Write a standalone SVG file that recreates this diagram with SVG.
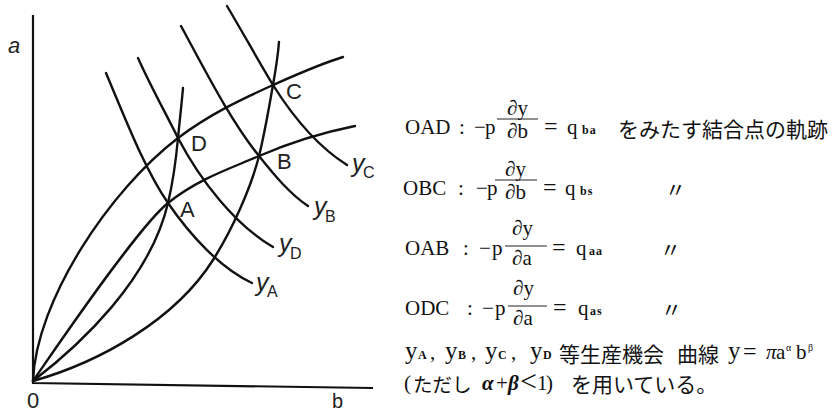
<svg xmlns="http://www.w3.org/2000/svg" width="832" height="413" viewBox="0 0 832 413">
<style>
.ax{stroke:#111;stroke-width:2.2;fill:none}
.cv{stroke:#111;stroke-width:2.4;fill:none;stroke-linecap:round}
.bar{stroke:#222;stroke-width:1}
.lb{font-family:"Liberation Sans",Arial,sans-serif;font-size:22px;fill:#222}
.sub{font-family:"Liberation Sans",Arial,sans-serif;font-size:16px;fill:#222}
.il{font-family:"Liberation Sans",Arial,sans-serif;font-style:italic;font-size:25px;fill:#222}
.tx{font-family:"Liberation Serif","Noto Sans CJK JP",serif;font-size:21px;fill:#111}
.eq{font-family:"Liberation Serif",serif;font-size:24px;fill:#111}
.yy{font-family:"Liberation Serif",serif;font-size:25px;fill:#111}
.sup{font-family:"Liberation Serif",serif;font-size:10px;fill:#111}
.jp{font-family:"Noto Sans CJK JP",sans-serif;font-size:21px;fill:#111}
.sb{font-family:"Liberation Serif",serif;font-size:12px;font-weight:bold;fill:#111}
.gr{font-family:"Liberation Serif",serif;font-style:italic;font-weight:bold;font-size:21px;fill:#111}
</style>
<rect width="832" height="413" fill="#fff"/>
<g id="axes">
<path class="ax" d="M33,15 V383 L373,388"/>
<text class="il" x="8" y="53" style="font-size:22px">a</text>
<text class="lb" x="27" y="408">0</text>
<text class="lb" x="332" y="408" style="font-size:20px">b</text>
</g>
<g id="rays">
<path id="ODC" class="cv" d="M33,381 C36,300 110,190 178,138 C210,114 240,100 273,85 C300,73 320,64 343,57"/>
<path id="OAB" class="cv" d="M33,381 C58,345 138,227 168,203 C198,179 229,169 259,156 C289,143 325,132 355,126"/>
<path id="OAD" class="cv" d="M33,381 C80,345 150,280 168,203 C172,186 176,160 178,138 C180,118 182,100 183,88"/>
<path id="OBC" class="cv" d="M33,381 C100,362 175,320 213,260 C232,230 251,188 259,156 C265,132 269,107 273,85 C276,68 278,55 279,42"/>
</g>
<g id="isoquants">
<path id="yA" class="cv" d="M106,73 C125,118 145,170 168,203 C190,235 220,268 252,283"/>
<path id="yD" class="cv" d="M138,58 C150,85 165,112 178,138 C200,180 235,225 273,247"/>
<path id="yB" class="cv" d="M181,26 C205,70 230,120 259,156 C275,176 290,194 308,206"/>
<path id="yC" class="cv" d="M227,6 C243,33 258,60 273,85 C295,120 320,148 347,165"/>
</g>
<g id="curve-labels">
<g id="lbl-yA"><text class="il" x="256" y="291">y</text><text class="sub" x="267" y="297">A</text></g>
<g id="lbl-yD"><text class="il" x="279" y="252">y</text><text class="sub" x="290" y="259">D</text></g>
<g id="lbl-yB"><text class="il" x="314" y="215">y</text><text class="sub" x="325" y="222">B</text></g>
<g id="lbl-yC"><text class="il" x="352" y="172">y</text><text class="sub" x="363" y="178">C</text></g>
</g>
<g id="points">
<g id="pA"><text class="lb" x="180" y="217">A</text></g>
<g id="pD"><text class="lb" x="191" y="151">D</text></g>
<g id="pC"><text class="lb" x="286" y="99">C</text></g>
<g id="pB"><text class="lb" x="277" y="169">B</text></g>
</g>
<g id="legend">
<g id="row-OAD">
<text class="tx" x="405" y="134">OAD</text>
<text class="tx" x="459" y="134">:</text>
<text class="tx" x="474" y="134">−</text>
<text class="tx" x="485" y="134">p</text>
<text class="tx" x="507" y="115">∂y</text>
<line class="bar" x1="497" y1="119" x2="538" y2="119"/>
<text class="tx" x="507" y="138">∂b</text>
<text class="eq" x="544" y="134">=</text>
<text class="tx" x="567" y="134">q</text>
<text class="sb" x="582" y="134" letter-spacing="1">ba</text>
<text class="jp" x="618" y="137">をみたす結合点の軌跡</text>
</g>
<g id="row-OBC">
<text class="tx" x="403" y="195">OBC</text>
<text class="tx" x="458" y="195">:</text>
<text class="tx" x="476" y="195">−</text>
<text class="tx" x="487" y="195">p</text>
<text class="tx" x="505" y="176">∂y</text>
<line class="bar" x1="495" y1="180" x2="537" y2="180"/>
<text class="tx" x="505" y="199">∂b</text>
<text class="eq" x="543" y="195">=</text>
<text class="tx" x="565" y="195">q</text>
<text class="sb" x="580" y="195" letter-spacing="1">bs</text>
<text class="jp" x="665" y="197">〃</text>
</g>
<g id="row-OAB">
<text class="tx" x="405" y="255">OAB</text>
<text class="tx" x="463" y="255">:</text>
<text class="tx" x="479" y="255">−</text>
<text class="tx" x="492" y="255">p</text>
<text class="tx" x="512" y="235">∂y</text>
<line class="bar" x1="505" y1="246" x2="547" y2="246"/>
<text class="tx" x="512" y="265">∂a</text>
<text class="eq" x="552" y="255">=</text>
<text class="tx" x="576" y="255">q</text>
<text class="sb" x="589" y="255" letter-spacing="1">aa</text>
<text class="jp" x="660" y="257">〃</text>
</g>
<g id="row-ODC">
<text class="tx" x="405" y="315">ODC</text>
<text class="tx" x="467" y="315">:</text>
<text class="tx" x="482" y="315">−</text>
<text class="tx" x="495" y="315">p</text>
<text class="tx" x="513" y="295">∂y</text>
<line class="bar" x1="508" y1="306" x2="547" y2="306"/>
<text class="tx" x="513" y="325">∂a</text>
<text class="eq" x="553" y="315">=</text>
<text class="tx" x="578" y="315">q</text>
<text class="sb" x="590" y="315" letter-spacing="1">as</text>
<text class="jp" x="661" y="317">〃</text>
</g>
<g id="row-note1">
<text class="yy" x="405" y="359">y</text><text class="sb" x="418" y="359">A</text>
<text class="tx" x="430" y="359">,</text>
<text class="yy" x="445" y="359">y</text><text class="sb" x="458" y="359">B</text>
<text class="tx" x="471" y="359">,</text>
<text class="yy" x="485" y="359">y</text><text class="sb" x="498" y="359">C</text>
<text class="tx" x="511" y="359">,</text>
<text class="yy" x="530" y="359">y</text><text class="sb" x="543" y="359">D</text>
<text class="jp" x="559" y="362">等生産機会</text>
<text class="jp" x="677" y="362">曲線</text>
<text class="yy" x="728" y="359">y</text>
<text class="eq" x="743" y="359">=</text>
<text class="tx" x="766" y="359" style="font-style:italic">π</text>
<text class="tx" x="776" y="359">a</text>
<text class="sup" x="786" y="351">α</text>
<text class="tx" x="796" y="359">b</text>
<text class="sup" x="808" y="351">β</text>
</g>
<g id="row-note2">
<text class="tx" x="404" y="390">(</text>
<text class="jp" x="413" y="392" style="font-size:19.5px">ただし</text>
<text class="gr" x="482" y="390">α</text>
<text class="tx" x="496" y="390">+</text>
<text class="gr" x="508" y="390">β</text>
<text class="tx" x="520" y="391" style="font-size:30px">&lt;</text>
<text class="tx" x="537" y="390">1</text>
<text class="tx" x="546" y="390">)</text>
<text class="jp" x="571" y="392">を用いている。</text>
</g>
</g>
</svg>
